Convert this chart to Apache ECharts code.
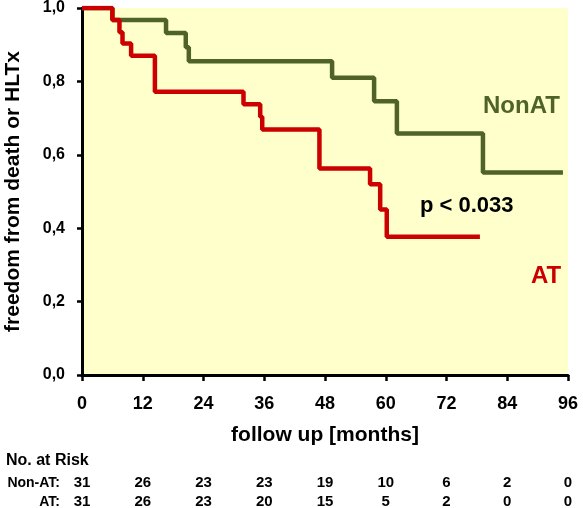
<!DOCTYPE html>
<html>
<head>
<meta charset="utf-8">
<script src="https://cdn.jsdelivr.net/npm/echarts@6/dist/echarts.min.js"></script>
<style>
html,body{margin:0;padding:0;background:#fff;}
#c{width:583px;height:508px;}
</style>
</head>
<body>
<div id="c"></div>
<script>
// Kaplan-Meier step points [month, survival]
var nonATMonths = [0, 6.0, 16.6, 20.5, 21.1, 49.4, 57.7, 62.2, 79.2, 95.0];
var nonATSurv   = [1.0, 0.967, 0.932, 0.893, 0.855, 0.810, 0.746, 0.658, 0.552, 0.552];
var atMonths = [0, 6.0, 7.4, 8.0, 9.7, 14.4, 31.9, 35.2, 35.6, 46.9, 56.9, 58.9, 60.2, 78.6];
var atSurv   = [1.0, 0.967, 0.934, 0.903, 0.870, 0.772, 0.738, 0.704, 0.669, 0.563, 0.520, 0.451, 0.377, 0.377];

var xTicks = [0, 12, 24, 36, 48, 60, 72, 84, 96];
var yTicks = ['0,0', '0,2', '0,4', '0,6', '0,8', '1,0'];
var riskNonAT = [31, 26, 23, 23, 19, 10, 6, 2, 0];
var riskAT    = [31, 26, 23, 20, 15, 5, 2, 0, 0];

var FONT = '"Liberation Sans", Arial, sans-serif';
var GREEN = '#4F6228';
var RED = '#CC0000';

function pts(xs, ys){ return xs.map(function(x,i){ return [x, ys[i]]; }); }

var chart = echarts.init(document.getElementById('c'), null, {renderer:'canvas'});
var option = {
  animation: false,
  textStyle: {fontFamily: FONT},
  grid: {left: 82, right: 15, top: 8, bottom: 133, show: true, backgroundColor: '#FFFFCC', borderWidth: 0,
         containLabel: false, outerBoundsMode: 'none'},
  xAxis: {
    type: 'value', min: 0, max: 96, interval: 12,
    name: 'follow up [months]', nameLocation: 'middle', nameGap: 50,
    nameTextStyle: {fontFamily: FONT, fontWeight: 'bold', fontSize: 21, color: '#000'},
    axisLine: {lineStyle: {color: '#000', width: 3}},
    axisTick: {show: true, length: 6, lineStyle: {color: '#000', width: 2.5}},
    axisLabel: {margin: 20, fontFamily: FONT, fontWeight: 'bold', fontSize: 18, color: '#000'},
    splitLine: {show: false}
  },
  yAxis: {
    type: 'value', min: 0, max: 1, interval: 0.2,
    name: 'freedom from death or HLTx', nameLocation: 'middle', nameGap: 58, nameRotate: 90,
    nameTextStyle: {fontFamily: FONT, fontWeight: 'bold', fontSize: 21, color: '#000'},
    axisLine: {show: true, lineStyle: {color: '#000', width: 3}},
    axisTick: {show: true, length: 5, lineStyle: {color: '#000', width: 2.5}},
    axisLabel: {margin: 17, fontFamily: FONT, fontWeight: 'bold', fontSize: 16, color: '#000',
      formatter: function(v){ return yTicks[Math.round(v/0.2)]; }},
    splitLine: {show: false}
  },
  series: [
    {type: 'line', name: 'NonAT', step: 'end', symbol: 'none', data: pts(nonATMonths, nonATSurv),
     lineStyle: {color: GREEN, width: 4.5}, z: 2},
    {type: 'line', name: 'AT', step: 'end', symbol: 'none', data: pts(atMonths, atSurv),
     lineStyle: {color: RED, width: 4.5}, z: 3}
  ]
};
chart.setOption(option);

function build(){
  var g = [];
  g.push({type:'text', left: 483, top: 94, style:{text:'NonAT', font:'bold 24px ' + FONT, fill: GREEN}});
  g.push({type:'text', left: 531, top: 264, style:{text:'AT', font:'bold 24px ' + FONT, fill: RED}});
  g.push({type:'text', left: 420, top: 195, style:{text:'p < 0.033', font:'bold 22px ' + FONT, fill: '#000'}});
  g.push({type:'text', left: 6, top: 453, style:{text:'No. at Risk', font:'bold 16px ' + FONT, fill:'#000'}});
  g.push({type:'text', x: 60, y: 483, style:{text:'Non-AT:', font:'bold 14px ' + FONT, fill:'#000', align:'right', verticalAlign:'middle'}});
  g.push({type:'text', x: 60, y: 502, style:{text:'AT:', font:'bold 14px ' + FONT, fill:'#000', align:'right', verticalAlign:'middle'}});
  xTicks.forEach(function(m, i){
    var px = chart.convertToPixel({xAxisIndex:0}, m);
    g.push({type:'text', x: px, y: 483, style:{text: String(riskNonAT[i]), font:'bold 15px ' + FONT, fill:'#000', align:'center', verticalAlign:'middle'}});
    g.push({type:'text', x: px, y: 502, style:{text: String(riskAT[i]), font:'bold 15px ' + FONT, fill:'#000', align:'center', verticalAlign:'middle'}});
  });
  chart.setOption({graphic: g});
}
build();
</script>
</body>
</html>
